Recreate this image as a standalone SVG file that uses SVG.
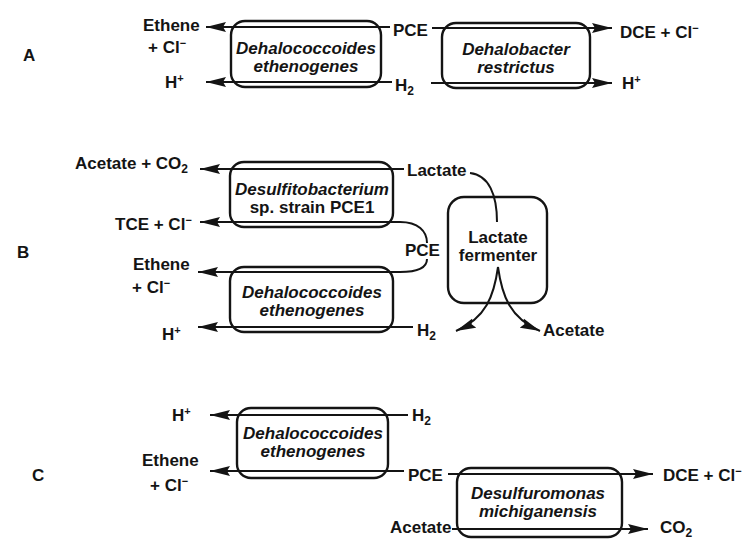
<svg xmlns="http://www.w3.org/2000/svg" width="742" height="547" viewBox="0 0 742 547">
<defs>
<style>
text{font-family:"Liberation Sans",Arial,sans-serif;font-size:17px;font-weight:bold;fill:#141414}
.sp{font-style:italic;text-anchor:middle}
.mid{text-anchor:middle}
.box{fill:none;stroke:#141414;stroke-width:2.4}
.ln{fill:none;stroke:#141414;stroke-width:2}
.sup{font-size:11px}
.sub{font-size:12px}
</style>
<marker id="ah" markerUnits="userSpaceOnUse" markerWidth="21" markerHeight="11" refX="20" refY="5.5" orient="auto">
<path d="M0,0.5 L20,5.5 L0,10.5 L3,5.5 z" fill="#141414"/>
</marker>
</defs>
<rect width="742" height="547" fill="#ffffff"/>

<!-- Panel labels -->
<g id="labelA"><text x="23" y="61">A</text></g>
<g id="labelB"><text x="17" y="258">B</text></g>
<g id="labelC"><text x="32" y="481">C</text></g>

<!-- Panel A -->
<g id="A_ethene"><text x="143" y="31">Ethene</text><text x="148" y="53">+ Cl<tspan class="sup" dy="-6">−</tspan></text></g>
<g id="A_hplus_left"><text x="165" y="88">H<tspan class="sup" dy="-6">+</tspan></text></g>
<g id="A_dehalococcoides"><rect class="box" x="231" y="21" width="150" height="66" rx="14"/><text class="sp" x="306" y="54">Dehalococcoides</text><text class="sp" x="306" y="72">ethenogenes</text></g>
<g id="A_pce"><text x="393" y="36">PCE</text></g>
<g id="A_h2"><text x="395" y="91">H<tspan class="sub" dy="4">2</tspan></text></g>
<g id="A_dehalobacter"><rect class="box" x="442" y="23" width="148" height="65" rx="14"/><text class="sp" x="516" y="55">Dehalobacter</text><text class="sp" x="516" y="73">restrictus</text></g>
<g id="A_dce"><text x="620" y="38">DCE + Cl<tspan class="sup" dy="-6">−</tspan></text></g>
<g id="A_hplus_right"><text x="622" y="89">H<tspan class="sup" dy="-6">+</tspan></text></g>

<!-- Panel B -->
<g id="B_acetate_co2"><text x="75" y="169">Acetate + CO<tspan class="sub" dy="4">2</tspan></text></g>
<g id="B_tce"><text x="115" y="230">TCE + Cl<tspan class="sup" dy="-6">−</tspan></text></g>
<g id="B_desulfitobacterium"><rect class="box" x="230" y="162" width="163" height="65" rx="14"/><text class="sp" x="312" y="195">Desulfitobacterium</text><text class="mid" x="312" y="213">sp. strain PCE1</text></g>
<g id="B_lactate"><text x="407" y="176">Lactate</text></g>
<g id="B_pce"><text x="405" y="256">PCE</text></g>
<g id="B_ethene"><text x="133" y="270">Ethene</text><text x="132" y="293">+ Cl<tspan class="sup" dy="-6">−</tspan></text></g>
<g id="B_dehalococcoides"><rect class="box" x="230" y="267" width="163" height="65" rx="14"/><text class="sp" x="312" y="298">Dehalococcoides</text><text class="sp" x="312" y="316">ethenogenes</text></g>
<g id="B_hplus"><text x="162" y="340">H<tspan class="sup" dy="-6">+</tspan></text></g>
<g id="B_h2"><text x="417" y="336">H<tspan class="sub" dy="4">2</tspan></text></g>
<g id="B_fermenter"><rect class="box" x="448" y="197" width="99" height="106" rx="16"/><text class="mid" x="498" y="243">Lactate</text><text class="mid" x="498" y="261">fermenter</text></g>
<g id="B_acetate"><text x="543" y="336">Acetate</text></g>

<!-- Panel C -->
<g id="C_hplus"><text x="172" y="421">H<tspan class="sup" dy="-6">+</tspan></text></g>
<g id="C_ethene"><text x="142" y="466">Ethene</text><text x="150" y="491">+ Cl<tspan class="sup" dy="-6">−</tspan></text></g>
<g id="C_dehalococcoides"><rect class="box" x="237" y="408" width="151" height="70" rx="14"/><text class="sp" x="313" y="439">Dehalococcoides</text><text class="sp" x="313" y="457">ethenogenes</text></g>
<g id="C_h2"><text x="412" y="421">H<tspan class="sub" dy="4">2</tspan></text></g>
<g id="C_pce"><text x="408" y="481">PCE</text></g>
<g id="C_desulfuromonas"><rect class="box" x="457" y="468" width="165" height="69" rx="14"/><text class="sp" x="538" y="499">Desulfuromonas</text><text class="sp" x="538" y="517">michiganensis</text></g>
<g id="C_dce"><text x="663" y="481">DCE + Cl<tspan class="sup" dy="-6">−</tspan></text></g>
<g id="C_acetate"><text x="390" y="533">Acetate</text></g>
<g id="C_co2"><text x="660" y="533">CO<tspan class="sub" dy="4">2</tspan></text></g>

<g id="connectors">
<!-- A -->
<path class="ln" d="M390 27 L206 27" marker-end="url(#ah)"/>
<path class="ln" d="M392 82 L206 82" marker-end="url(#ah)"/>
<path class="ln" d="M432 28 L612 28" marker-end="url(#ah)"/>
<path class="ln" d="M431 83 L612 83" marker-end="url(#ah)"/>
<!-- B -->
<path class="ln" d="M404 169 L200 169" marker-end="url(#ah)"/>
<path class="ln" d="M427 243 C427 231 418 222 400 222 L200 222" marker-end="url(#ah)"/>
<path class="ln" d="M427 259 C427 268 418 272 400 272 L198 272" marker-end="url(#ah)"/>
<path class="ln" d="M413 327 L198 327" marker-end="url(#ah)"/>
<path class="ln" d="M470 173 C489 175 497 195 497 222"/>
<path class="ln" d="M498 267 C494 296 486 318 456 331" marker-end="url(#ah)"/>
<path class="ln" d="M498 267 C502 296 510 318 540 331" marker-end="url(#ah)"/>
<!-- C -->
<path class="ln" d="M408 415 L210 415" marker-end="url(#ah)"/>
<path class="ln" d="M404 471 L210 471" marker-end="url(#ah)"/>
<path class="ln" d="M448 474 L653 474" marker-end="url(#ah)"/>
<path class="ln" d="M452 529 L648 529" marker-end="url(#ah)"/>
</g>
</svg>
